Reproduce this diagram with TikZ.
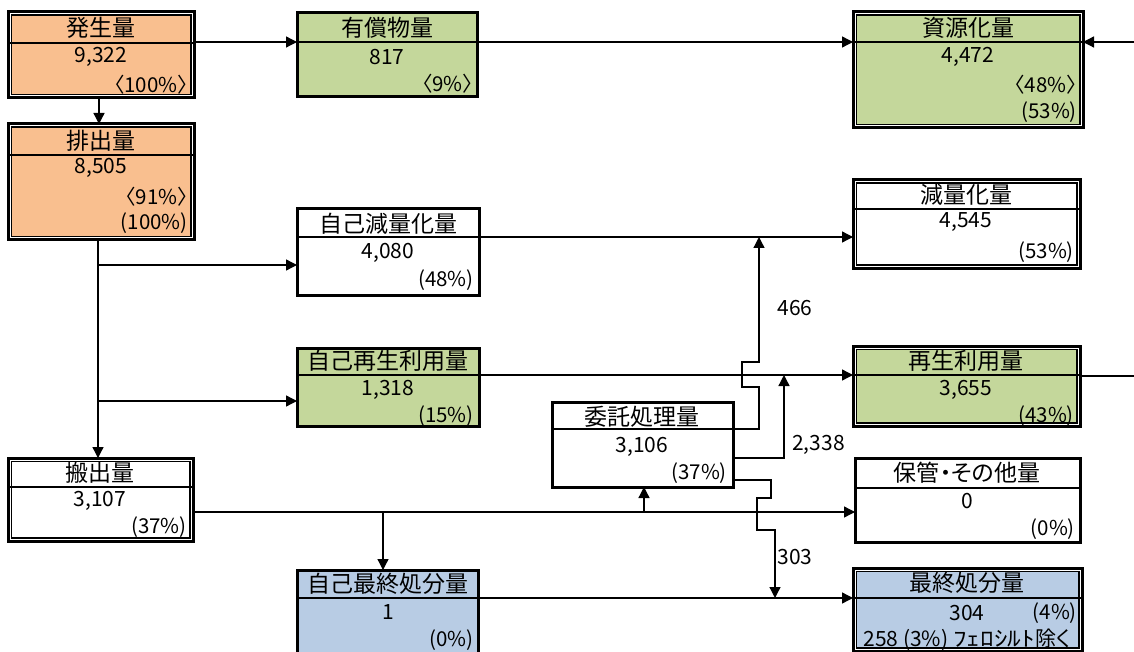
\documentclass[tikz,border=0pt]{standalone}
\usepackage{fontspec}
\usepackage{graphicx}
\setmainfont{Noto Sans CJK JP}[RawFeature=+palt]
\usetikzlibrary{arrows.meta}
\definecolor{orn}{HTML}{F9BF8F}
\definecolor{grn}{HTML}{C4D79B}
\definecolor{blu}{HTML}{B8CCE4}
\tikzset{
  bx/.style={draw, line width=3pt, inner sep=0pt, outer sep=0pt, rectangle},
  conn/.style={line width=1.3pt},
  arr/.style={conn, -{Triangle[length=11pt,width=11pt]}},
  ttl/.style={font=\fontsize{23}{23}\selectfont, inner sep=0pt},
  val/.style={font=\fontsize{21}{21}\selectfont, inner sep=0pt},
  pct/.style={font=\fontsize{20.5}{21}\selectfont, inner sep=0pt, anchor=east},
  lbl/.style={font=\fontsize{21}{21}\selectfont, inner sep=0pt},
}
\newcommand\mkbox[8]{%
  \node[bx, fill=#6, minimum width={#4-#2}, minimum height={#5-#3}] (#1) at ({(#2+#4)/2},{(#3+#5)/2}) {};
  \ifnum#8=1
    \draw[white, line width=1pt] ({#2+2},{#3+2}) rectangle ({#4-2},{#5-2});
    \draw[line width=1.2pt] ({#2+3.1},{#3+3.1}) rectangle ({#4-3.1},{#5-3.1});
  \fi
  \draw[line width=2pt] (#2,#7) -- (#4,#7);
}
\begin{document}
\begin{tikzpicture}[x=1pt, y=-1pt]
\useasboundingbox (0,0) rectangle (1134,652);

% boxes
\mkbox{hassei}{8}{12}{194}{98}{orn}{43}{1}
\node[ttl] (hasseiT) at (101,28) {発生量};
\node[val] (hasseiV) at (101,57) {9,322};
\node[pct] (hasseiP) at (188,85) {〈100\%〉};

\mkbox{haishutsu}{8}{124}{194}{240}{orn}{155}{1}
\node[ttl] (haishutsuT) at (101,141) {排出量};
\node[val] (haishutsuV) at (101,168) {8,505};
\node[pct] (haishutsuP) at (188,197) {〈91\%〉};
\node[pct] (haishutsuQ) at (188,223) {(100\%)};

\mkbox{yusho}{297}{13}{477}{97}{grn}{42}{0}
\node[ttl] (yushoT) at (387,28) {有償物量};
\node[val] (yushoV) at (387,57) {817};
\node[pct] (yushoP) at (473,84) {〈9\%〉};

\mkbox{shigen}{853}{12}{1083}{128}{grn}{42}{1}
\node[ttl] (shigenT) at (968,28) {資源化量};
\node[val] (shigenV) at (968,57) {4,472};
\node[pct] (shigenP) at (1077,85) {〈48\%〉};
\node[pct] (shigenQ) at (1077,112) {(53\%)};

\mkbox{genryo}{853}{180}{1080}{268}{white}{209}{1}
\node[ttl] (genryoT) at (966,195) {減量化量};
\node[val] (genryoV) at (966,222) {4,545};
\node[pct] (genryoP) at (1074,252) {(53\%)};

\mkbox{saisei}{853}{346}{1080}{426}{grn}{375}{1}
\node[ttl] (saiseiT) at (966,361) {再生利用量};
\node[val] (saiseiV) at (966,390) {3,655};
\node[pct] (saiseiP) at (1074,416) {(43\%)};

\mkbox{hokan}{855}{458}{1080}{542}{white}{488}{0}
\node[ttl] (hokanT) at (967,473) {保管・その他量};
\node[val] (hokanV) at (967,501) {0};
\node[pct] (hokanP) at (1075,529) {(0\%)};

\mkbox{saishu}{853}{568}{1082}{651}{blu}{598}{1}
\node[ttl] (saishuT) at (967,583) {最終処分量};
\node[val] (saishuV) at (967,613) {304};
\node[pct] (saishuP) at (1077,613) {(4\%)};
\node[val] (saishuW) at (967,640) {258 (3\%) \scalebox{1.3}[1]{ﾌｪﾛｼﾙﾄ}除く};

\mkbox{jikogen}{297}{209}{479}{295}{white}{237}{0}
\node[ttl] (jikogenT) at (388,224) {自己減量化量};
\node[val] (jikogenV) at (388,253) {4,080};
\node[pct] (jikogenP) at (474,280) {(48\%)};

\mkbox{jikosai}{297}{348}{479}{426}{grn}{375}{0}
\node[ttl] (jikosaiT) at (388,361) {自己再生利用量};
\node[val] (jikosaiV) at (388,390) {1,318};
\node[pct] (jikosaiP) at (474,416) {(15\%)};

\mkbox{itaku}{552}{402}{733}{487}{white}{429}{0}
\node[ttl] (itakuT) at (642,417) {委託処理量};
\node[val] (itakuV) at (642,447) {3,106};
\node[pct] (itakuP) at (727,473) {(37\%)};

\mkbox{hanshutsu}{8}{458}{193}{541}{white}{487}{1}
\node[ttl] (hanshutsuT) at (100,473) {搬出量};
\node[val] (hanshutsuV) at (100,501) {3,107};
\node[pct] (hanshutsuP) at (187,527) {(37\%)};

\mkbox{jikosaishu}{297}{570}{478}{656}{blu}{598}{0}
\node[ttl] (jikosaishuT) at (388,584) {自己最終処分量};
\node[val] (jikosaishuV) at (388,612) {1};
\node[pct] (jikosaishuP) at (474,640) {(0\%)};

% free ends
\coordinate (rtop) at (1134,42);
\coordinate (rmid) at (1134,376);
\coordinate (b1) at (98,265);
\coordinate (b2) at (98,401);
\coordinate (b3) at (383,512);
\coordinate (b4) at (644,512);

% connectors
\draw[arr] (hassei.east |- 0,42) -- (yusho.west |- 0,42);
\draw[arr] (yusho.east |- 0,42) -- (shigen.west |- 0,42);
\draw[arr] (rtop) -- (shigen.east |- rtop);
\draw[arr] (hassei.south -| 99,0) -- (haishutsu.north -| 99,0);
\draw[arr] (haishutsu.south -| 98,0) -- (hanshutsu.north -| 98,0);
\draw[arr] (b1) -- (jikogen.west |- b1);
\draw[arr] (b2) -- (jikosai.west |- b2);
\draw[arr] (jikogen.east |- 0,237) -- (genryo.west |- 0,237);
\draw[arr] (jikosai.east |- 0,375) -- (saisei.west |- 0,375);
\draw[conn] (saisei.east |- rmid) -- (rmid);
\draw[arr] (itaku.east |- 0,429) -- (759,429) -- (759,387) -- (742,387) -- (742,362) -- (759,362) -- (759,237);
\draw[arr] (itaku.east |- 0,458) -- (784,458) -- (784,375);
\draw[arr] (itaku.east |- 0,480) -- (771,480) -- (771,498) -- (757,498) -- (757,530) -- (775,530) -- (775,598);
\draw[arr] (hanshutsu.east |- 0,512) -- (hokan.west |- 0,512);
\draw[arr] (b3) -- (jikosaishu.north -| b3);
\draw[arr] (b4) -- (itaku.south -| b4);
\draw[arr] (jikosaishu.east |- 0,598) -- (saishu.west |- 0,598);

% labels
\node[lbl] (l466) at (795,308) {466};
\node[lbl, anchor=west] (l2338) at (792,445) {2,338};
\node[lbl] (l303) at (795,557) {303};
\end{tikzpicture}
\end{document}
